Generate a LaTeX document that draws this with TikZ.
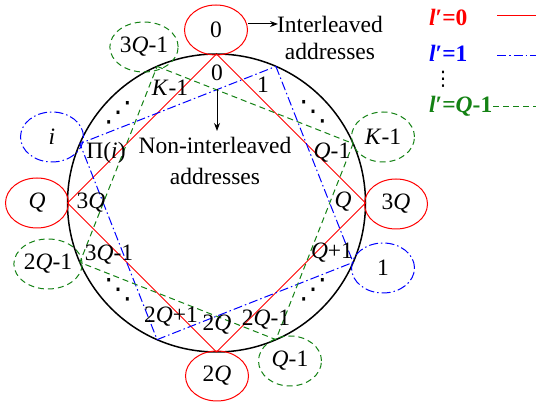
\documentclass[tikz,border=0pt]{standalone}
\usepackage{fontspec}
\setmainfont{Liberation Serif}
\newfontfamily\dvsans{DejaVu Sans}
\usetikzlibrary{shapes.geometric,arrows.meta}
\definecolor{rd}{RGB}{255,0,0}
\definecolor{bl}{RGB}{0,0,255}
\definecolor{gr}{RGB}{20,130,20}
\begin{document}
\begin{tikzpicture}[x=1pt,y=-1pt,
  every node/.style={font=\fontsize{23.5}{27}\selectfont, inner sep=0pt},
  ell/.style={ellipse, minimum width=63pt, minimum height=50pt, line width=1pt},
  redl/.style={rd, line width=1pt},
  bluel/.style={bl, line width=1pt, dash pattern=on 9pt off 3pt on 1.5pt off 3pt},
  greenl/.style={gr, line width=1pt, dash pattern=on 6pt off 4pt},
  blk/.style={text=black},
  dotn/.style={font=\dvsans\fontsize{28}{32}\selectfont},
  arr/.style={-{Stealth[length=8pt,width=6pt]}, line width=1pt}
]
\useasboundingbox (0,0) rectangle (536,403);
\fill[white] (0,0) rectangle (536,403);

\coordinate (c) at (216.5,203);
\draw[line width=1.5pt] (c) circle (149pt);

% red vertices
\coordinate (r0) at (216.5,54);
\coordinate (r1) at (365.5,203);
\coordinate (r2) at (216.5,352);
\coordinate (r3) at (67.5,203);
% blue vertices
\coordinate (b0) at (275.9,66.4);
\coordinate (b1) at (353.1,262.4);
\coordinate (b2) at (157.1,339.6);
\coordinate (b3) at (79.9,143.6);
% green vertices
\coordinate (g0) at (157.1,66.4);
\coordinate (g1) at (353.1,143.6);
\coordinate (g2) at (275.9,339.6);
\coordinate (g3) at (79.9,262.4);

\draw[redl] (r0) -- (r1) -- (r2) -- (r3) -- cycle;
\draw[bluel] (b0) -- (b1) -- (b2) -- (b3) -- cycle;
\draw[greenl] (g0) -- (g1) -- (g2) -- (g3) -- cycle;

% ellipses
\node[ell, draw=rd] (e0) at (216,30) {0};
\node[ell, draw=rd] (e3q) at (396,204) {3\textit{Q}};
\node[ell, draw=rd] (e2q) at (217,376) {2\textit{Q}};
\node[ell, draw=rd] (eq) at (37,203) {\textit{Q}};
\node[ell, bluel, draw=bl, blk] (ei) at (52,137) {\textit{i}};
\node[ell, bluel, draw=bl, blk] (e1) at (383,268) {1};
\node[ell, greenl, draw=gr, blk] (e3q1) at (144,47) {3\textit{Q}-1};
\node[ell, greenl, draw=gr, blk] (ek1) at (383,137) {\textit{K}-1};
\node[ell, greenl, draw=gr, blk] (e2q1) at (48,264) {2\textit{Q}-1};
\node[ell, greenl, draw=gr, blk] (eq1) at (290,361) {\textit{Q}-1};

% inner labels
\node (l0) at (217,73) {0};
\node (l1) at (263,85) {1};
\node (lk1) at (170,88) {\textit{K}-1};
\node (lq1) at (332,153) {\textit{Q}-1};
\node (lpi) at (106,153) {Π(\textit{i})};
\node (l3q) at (91,203) {3\textit{Q}};
\node (lq) at (343,202) {\textit{Q}};
\node (l3q1) at (109,255) {3\textit{Q}-1};
\node (lqp1) at (332,253) {\textit{Q}+1};
\node (l2qp1) at (171,317) {2\textit{Q}+1};
\node (l2q) at (217,325) {2\textit{Q}};
\node (l2qm1) at (266,320) {2\textit{Q}-1};

% dots
\node[dotn] (d1) at (118,113) {⋰};
\node[dotn] (d2) at (313,112) {⋱};
\node[dotn] (d3) at (118,290) {⋱};
\node[dotn] (d4) at (313,290) {⋰};

% texts
\node[align=center, font=\fontsize{23.5}{31}\selectfont] (noni) at (215,161) {Non-interleaved\\addresses};
\node[align=center, font=\fontsize{23.5}{27}\selectfont] (inter) at (330,38) {Interleaved\\addresses};

\coordinate (cross) at (217,89);
\coordinate (ctip) at (217,131);
\draw[arr] (cross) -- (ctip);
\coordinate (ia) at (248,24);
\coordinate (ib) at (278,24);
\draw[arr] (ia) -- (ib);

% legend
\node[anchor=west, text=rd] (lg0) at (429,17) {\textbf{\textit{l}′=0}};
\node[anchor=west, text=bl] (lg1) at (429,53) {\textbf{\textit{l}′=1}};
\node[font=\dvsans\fontsize{20}{24}\selectfont] (lgd) at (443,79) {⋮};
\node[anchor=west, text=gr] (lg2) at (429,106) {\textbf{\textit{l}′=\textit{Q}-1}};
\coordinate (la0) at (497,16);
\coordinate (la1) at (536,16);
\coordinate (lb0) at (497,56);
\coordinate (lb1) at (536,56);
\coordinate (lc0) at (493,107);
\coordinate (lc1) at (536,107);
\draw[redl] (la0) -- (la1);
\draw[bluel] (lb0) -- (lb1);
\draw[greenl] (lc0) -- (lc1);
\end{tikzpicture}
\end{document}
